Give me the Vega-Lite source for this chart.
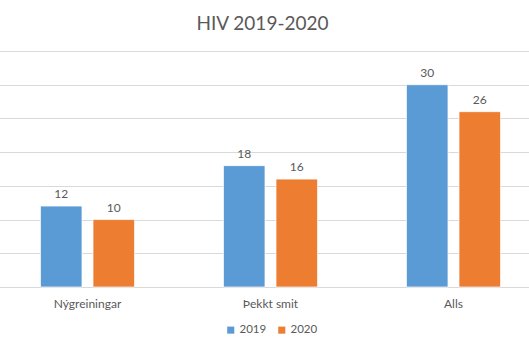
{
  "$schema": "https://vega.github.io/schema/vega-lite/v6.json",
  "autosize": "none",
  "width": 549,
  "height": 236,
  "padding": {"left": -4, "top": 51, "right": 0, "bottom": 66},
  "background": "white",
  "title": {
    "text": "HIV 2019-2020",
    "fontSize": 19,
    "font": "Lato",
    "fontWeight": "normal",
    "color": "#595959",
    "offset": 17,
    "dx": -8,
    "anchor": "middle"
  },
  "data": {
    "values": [
      {"flokkur": "Nýgreiningar", "ar": "2019", "fjoldi": 12},
      {"flokkur": "Nýgreiningar", "ar": "2020", "fjoldi": 10},
      {"flokkur": "Þekkt smit", "ar": "2019", "fjoldi": 18},
      {"flokkur": "Þekkt smit", "ar": "2020", "fjoldi": 16},
      {"flokkur": "Alls", "ar": "2019", "fjoldi": 30},
      {"flokkur": "Alls", "ar": "2020", "fjoldi": 26}
    ]
  },
  "encoding": {
    "x": {
      "field": "flokkur",
      "type": "nominal",
      "sort": ["Nýgreiningar", "Þekkt smit", "Alls"],
      "scale": {"paddingInner": 0.486, "paddingOuter": 0.243},
      "axis": {
        "title": null,
        "labelAngle": 0,
        "labelFont": "Lato",
        "labelFontSize": 12,
        "labelColor": "#595959",
        "labelPadding": 11,
        "ticks": false,
        "domain": false
      }
    },
    "xOffset": {
      "field": "ar",
      "type": "nominal",
      "scale": {"paddingInner": 0.21, "paddingOuter": 0}
    },
    "y": {
      "field": "fjoldi",
      "type": "quantitative",
      "scale": {"domain": [0, 35], "nice": false},
      "axis": {
        "title": null,
        "labels": false,
        "ticks": false,
        "domain": false,
        "values": [0, 5, 10, 15, 20, 25, 30, 35],
        "grid": true,
        "gridColor": "#D9D9D9",
        "gridWidth": 1
      }
    }
  },
  "layer": [
    {
      "mark": {"type": "bar", "stroke": "white", "strokeWidth": 0.7},
      "encoding": {
        "color": {
          "field": "ar",
          "type": "nominal",
          "scale": {"domain": ["2019", "2020"], "range": ["#5B9BD5", "#ED7D31"]},
          "legend": {
            "title": null,
            "orient": "none",
            "legendX": 229,
            "legendY": 273,
            "direction": "horizontal",
            "symbolType": "square",
            "symbolSize": 50,
            "symbolStrokeWidth": 0,
            "labelFont": "Lato",
            "labelFontSize": 11.5,
            "labelColor": "#595959",
            "columnPadding": 9,
            "labelOffset": 3
          }
        }
      }
    },
    {
      "mark": {"type": "text", "baseline": "bottom", "dy": -5, "font": "Lato", "fontSize": 12, "color": "#595959"},
      "encoding": {
        "text": {"field": "fjoldi", "type": "quantitative"}
      }
    }
  ],
  "config": {
    "view": {"stroke": null}
  }
}
